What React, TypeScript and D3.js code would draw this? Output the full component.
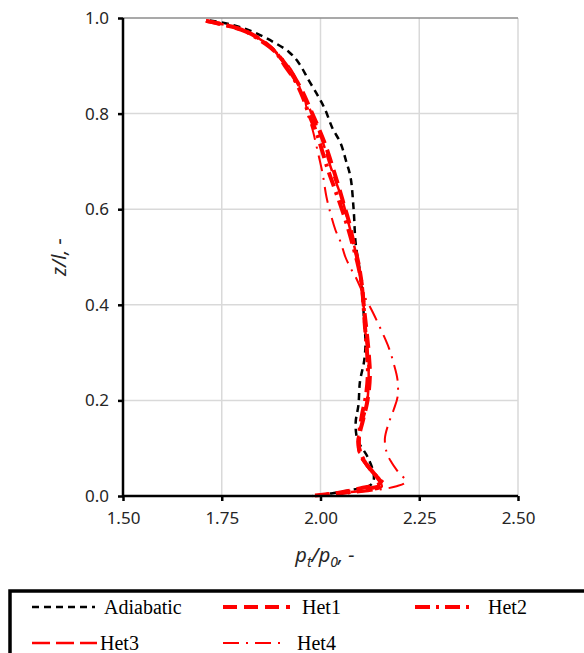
import React, { useEffect, useRef } from "react";
import * as d3 from "d3";

// [p_t/p_0, z/l] pairs
const adiabatic: [number, number][] = [
  [1.72, 0.995], [1.78, 0.985], [1.83, 0.971], [1.88, 0.95], [1.92, 0.929],
  [1.945, 0.906], [1.97, 0.87], [1.995, 0.835], [2.012, 0.808], [2.03, 0.77],
  [2.051, 0.738], [2.065, 0.7], [2.076, 0.667], [2.084, 0.598], [2.089, 0.529],
  [2.102, 0.458], [2.107, 0.416], [2.11, 0.37], [2.114, 0.32], [2.11, 0.28],
  [2.1, 0.24], [2.096, 0.19], [2.089, 0.153], [2.094, 0.117], [2.119, 0.082],
  [2.135, 0.044], [2.13, 0.025], [2.06, 0.01], [1.98, 0.0],
];

const het1: [number, number][] = [
  [1.71, 0.994], [1.76, 0.985], [1.8, 0.976], [1.835, 0.962], [1.865, 0.945],
  [1.89, 0.925], [1.91, 0.905], [1.935, 0.875], [1.955, 0.845], [1.975, 0.808],
  [1.995, 0.77], [2.012, 0.735], [2.03, 0.69], [2.045, 0.65], [2.058, 0.613],
  [2.071, 0.577], [2.084, 0.529], [2.096, 0.487], [2.105, 0.44], [2.11, 0.395],
  [2.116, 0.35], [2.122, 0.3], [2.125, 0.25], [2.119, 0.2], [2.108, 0.16],
  [2.097, 0.12], [2.1, 0.09], [2.115, 0.068], [2.132, 0.05], [2.152, 0.028],
  [2.1, 0.016], [2.04, 0.006], [1.97, 0.0],
];

const het2: [number, number][] = [
  [1.71, 0.994], [1.76, 0.985], [1.81, 0.972], [1.85, 0.952], [1.885, 0.93],
  [1.91, 0.9], [1.935, 0.87], [1.955, 0.835], [1.97, 0.8], [1.99, 0.76],
  [2.005, 0.72], [2.02, 0.68], [2.035, 0.645], [2.05, 0.61], [2.066, 0.57],
  [2.08, 0.53], [2.093, 0.49], [2.103, 0.45], [2.108, 0.41], [2.112, 0.36],
  [2.117, 0.31], [2.12, 0.26], [2.115, 0.21], [2.105, 0.17], [2.098, 0.13],
  [2.098, 0.1], [2.11, 0.075], [2.128, 0.055], [2.148, 0.035], [2.16, 0.025],
  [2.12, 0.015], [2.06, 0.007], [2.0, 0.002],
];

const het3: [number, number][] = [
  [1.71, 0.994], [1.77, 0.983], [1.82, 0.968], [1.86, 0.948], [1.89, 0.925],
  [1.915, 0.895], [1.94, 0.862], [1.96, 0.83], [1.978, 0.8], [1.995, 0.765],
  [2.01, 0.73], [2.025, 0.69], [2.04, 0.655], [2.055, 0.62], [2.068, 0.58],
  [2.082, 0.535], [2.094, 0.49], [2.104, 0.44], [2.11, 0.39], [2.114, 0.34],
  [2.12, 0.29], [2.122, 0.24], [2.117, 0.19], [2.104, 0.15], [2.094, 0.115],
  [2.1, 0.085], [2.12, 0.06], [2.14, 0.04], [2.155, 0.02], [2.12, 0.012],
  [2.07, 0.008],
];

const het4: [number, number][] = [
  [1.71, 0.994], [1.76, 0.985], [1.82, 0.969], [1.88, 0.935], [1.925, 0.893],
  [1.945, 0.86], [1.96, 0.83], [1.967, 0.8], [1.98, 0.766], [1.992, 0.724],
  [2.005, 0.676], [2.015, 0.626], [2.025, 0.592], [2.038, 0.556], [2.051, 0.531],
  [2.063, 0.5], [2.076, 0.477], [2.089, 0.458], [2.11, 0.42], [2.132, 0.385],
  [2.157, 0.341], [2.173, 0.31], [2.185, 0.278], [2.195, 0.243], [2.195, 0.207],
  [2.185, 0.18], [2.173, 0.153], [2.163, 0.12], [2.168, 0.09], [2.18, 0.07],
  [2.195, 0.052], [2.216, 0.03], [2.19, 0.02], [2.12, 0.01], [2.04, 0.003],
];

const xTicks = [1.5, 1.75, 2.0, 2.25, 2.5];
const yTicks = [0, 0.2, 0.4, 0.6, 0.8, 1.0];

const series = [
  { name: "Adiabatic", data: adiabatic, color: "#000000", width: 2.5, dash: "7,5" },
  { name: "Het1", data: het1, color: "#ff0000", width: 4, dash: "14,7" },
  { name: "Het2", data: het2, color: "#ff0000", width: 4, dash: "15,6,3,6" },
  { name: "Het3", data: het3, color: "#ff0000", width: 2.5, dash: "18,6" },
  { name: "Het4", data: het4, color: "#ff0000", width: 2, dash: "16,7,2,7" },
];

// legend slots: [lineX1, lineX2, textX, rowY]
const legendPos = [
  [32, 95, 104, 607],
  [223, 290, 302, 607],
  [415, 474, 488, 607],
  [32, 97, 100, 643],
  [223, 284, 297, 643],
];

const App = () => {
  const svgRef = useRef<SVGSVGElement | null>(null);

  useEffect(() => {
    if (!svgRef.current) return;
    const width = 584;
    const height = 653;
    const plot = { left: 123, right: 518, top: 18, bottom: 496 };

    const svg = d3.select(svgRef.current).attr("width", width).attr("height", height);
    svg.selectAll("*").remove();

    const x = d3.scaleLinear().domain([1.5, 2.5]).range([plot.left, plot.right]);
    const y = d3.scaleLinear().domain([0, 1]).range([plot.bottom, plot.top]);

    // grid
    svg
      .append("g")
      .selectAll("line")
      .data(xTicks.slice(1))
      .enter()
      .append("line")
      .attr("x1", (d) => x(d))
      .attr("x2", (d) => x(d))
      .attr("y1", plot.top)
      .attr("y2", plot.bottom)
      .attr("stroke", "#d9d9d9")
      .attr("stroke-width", 1.5);

    svg
      .append("g")
      .selectAll("line")
      .data(yTicks.slice(1))
      .enter()
      .append("line")
      .attr("x1", plot.left)
      .attr("x2", plot.right)
      .attr("y1", (d) => y(d))
      .attr("y2", (d) => y(d))
      .attr("stroke", (d) => (d === 1 ? "#8c8c8c" : "#d9d9d9"))
      .attr("stroke-width", 1.5);

    // series
    const line = d3
      .line<[number, number]>()
      .x((d) => x(d[0]))
      .y((d) => y(d[1]))
      .curve(d3.curveCatmullRom.alpha(0.5));

    series.forEach((s) => {
      svg
        .append("path")
        .datum(s.data)
        .attr("fill", "none")
        .attr("stroke", s.color)
        .attr("stroke-width", s.width)
        .attr("stroke-dasharray", s.dash)
        .attr("d", line);
    });

    // axes
    const yAxis = svg
      .append("g")
      .attr("transform", `translate(${plot.left},0)`)
      .call(d3.axisLeft(y).tickValues(yTicks).tickFormat(d3.format(".1f")).tickSize(5).tickPadding(9));
    const xAxis = svg
      .append("g")
      .attr("transform", `translate(0,${plot.bottom})`)
      .call(d3.axisBottom(x).tickValues(xTicks).tickFormat(d3.format(".2f")).tickSize(5).tickPadding(11));

    [yAxis, xAxis].forEach((g) => {
      g.select(".domain").attr("stroke", "#000").attr("stroke-width", 2.5);
      g.selectAll(".tick line").attr("stroke", "#000").attr("stroke-width", 2.5);
      g.selectAll(".tick text")
        .attr("fill", "#262626")
        .style("font-family", "'Noto Sans', sans-serif")
        .style("font-size", "17px");
    });
    yAxis.select(".domain").attr("d", `M0,${plot.bottom + 1}V${plot.top}`);
    xAxis.select(".domain").attr("d", `M${plot.left - 1},0H${plot.right}`);

    // axis titles
    svg
      .append("text")
      .attr("transform", `translate(66,${(plot.top + plot.bottom) / 2}) rotate(-90)`)
      .attr("text-anchor", "middle")
      .style("font-family", "'Noto Sans', sans-serif")
      .style("font-size", "20px")
      .style("font-style", "italic")
      .attr("fill", "#262626")
      .text("z/l, -");

    const xt = svg
      .append("text")
      .attr("x", 325)
      .attr("y", 562)
      .attr("text-anchor", "middle")
      .style("font-family", "'Noto Sans', sans-serif")
      .style("font-size", "20px")
      .style("font-style", "italic")
      .attr("fill", "#262626");
    xt.append("tspan").text("p");
    xt.append("tspan").attr("dy", 5).style("font-size", "14px").text("t");
    xt.append("tspan").attr("dy", -5).text("/p");
    xt.append("tspan").attr("dy", 5).style("font-size", "14px").text("0");
    xt.append("tspan").attr("dy", -5).text(", -");

    // legend
    svg
      .append("path")
      .attr("d", `M10,${height + 5}V591H${width + 5}`)
      .attr("fill", "none")
      .attr("stroke", "#000")
      .attr("stroke-width", 3.5);

    series.forEach((s, i) => {
      const [x1, x2, tx, ry] = legendPos[i];
      svg
        .append("line")
        .attr("x1", x1)
        .attr("x2", x2)
        .attr("y1", ry)
        .attr("y2", ry)
        .attr("stroke", s.color)
        .attr("stroke-width", s.width)
        .attr("stroke-dasharray", s.dash);
      svg
        .append("text")
        .attr("x", tx)
        .attr("y", ry + 7)
        .style("font-family", "'Liberation Serif', 'Times New Roman', serif")
        .style("font-size", "20px")
        .attr("fill", "#000")
        .text(s.name);
    });
  }, []);

  return <svg ref={svgRef} style={{ position: "absolute", left: 0, top: 0 }}></svg>;
};

export default App;
